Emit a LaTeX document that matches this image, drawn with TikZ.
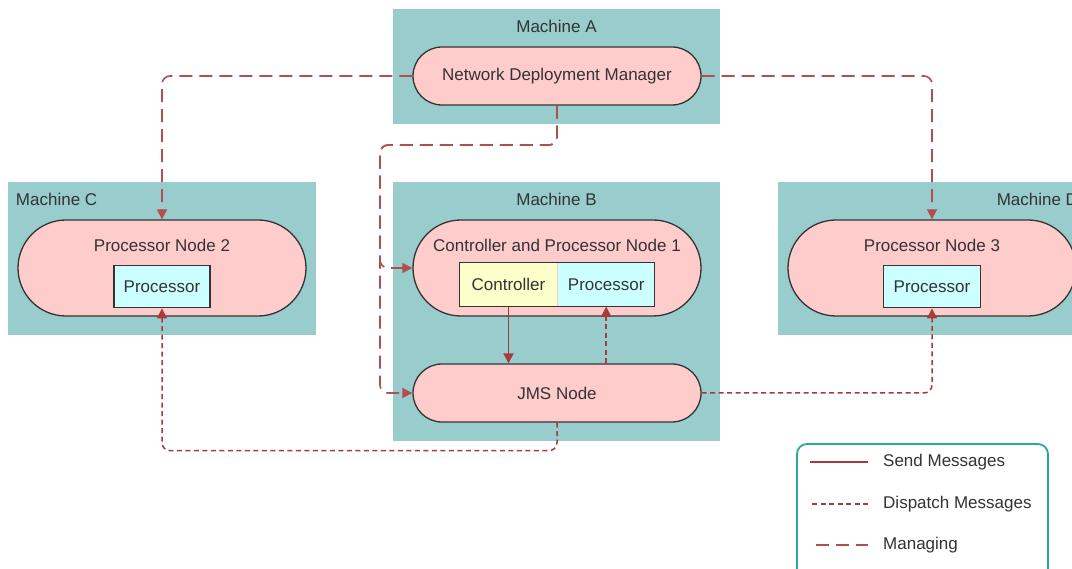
\documentclass[tikz,border=0pt]{standalone}
\usepackage{fontspec}
\setmainfont{Liberation Sans}
\usepackage{xcolor}
\usepackage{tikz}
\usetikzlibrary{arrows.meta,positioning,shapes.misc,fit,calc}
\definecolor{machteal}{HTML}{99CCCC}
\definecolor{nodepink}{HTML}{FFCCCC}
\definecolor{procyan}{HTML}{CCFFFF}
\definecolor{ctrlyellow}{HTML}{FFFFCC}
\definecolor{linkred}{HTML}{A83A3A}
\definecolor{legendteal}{HTML}{2AA6A6}
\definecolor{textgray}{HTML}{333333}
\tikzset{
  machine/.style={rectangle, fill=machteal, draw=none, minimum width=327pt, inner sep=0pt},
  machlabel/.style={inner sep=0pt, text=textgray},
  pill/.style={rounded rectangle, draw=textgray, fill=nodepink, line width=1.3pt, minimum width=288pt, inner sep=0pt, text=textgray},
  pilltitle/.style={inner sep=0pt, text=textgray},
  compbox/.style={rectangle, draw=textgray, fill=procyan, line width=1.2pt, minimum height=42pt, inner sep=0pt, text=textgray},
  sendline/.style={line width=1.8pt, draw=linkred},
  dispatchline/.style={line width=1.5pt, draw=linkred, dash pattern=on 5pt off 3.5pt, rounded corners=8pt},
  manageline/.style={line width=1.6pt, draw=linkred!90, dash pattern=on 13pt off 7pt, rounded corners=8pt},
  sendedge/.style={sendline, -{Triangle[length=10pt,width=10pt]}},
  dispatchedge/.style={dispatchline, -{Triangle[length=10pt,width=10pt]}},
  manageedge/.style={manageline, -{Triangle[length=10pt,width=10pt]}}
}
\begin{document}
\begin{tikzpicture}[x=1pt, y=-1pt, font=\fontsize{17}{20}\selectfont]
  \useasboundingbox (0,0) rectangle (1072,569);
  \clip (0,0) rectangle (1072,569);
  % machines
  \node[machine, minimum height=115pt] (macha) at (556.5,66.5) {};
  \node[machine, minimum height=259pt] (machb) at (556.5,311.5) {};
  \node[machine, minimum width=308pt, minimum height=153pt] (machc) at (162,258.5) {};
  \node[machine, minimum width=308pt, minimum height=153pt] (machd) at (932,258.5) {};
  \node[machlabel, below=11pt of macha.north] (labela) {Machine A};
  \node[machlabel, below=11pt of machb.north] (labelb) {Machine B};
  \node[machlabel, anchor=north west] (labelc) at ([xshift=8pt,yshift=-11pt]machc.north west) {Machine C};
  \node[machlabel, anchor=north east] (labeld) at ([xshift=-8pt,yshift=-11pt]machd.north east) {Machine D};
  % nodes
  \node[pill, minimum height=58pt] (ndm) at (557,76) {Network Deployment Manager};
  \node[pill, minimum height=96pt] (pn2) at (162,268) {};
  \node[pill, minimum height=96pt] (cpn1) at (557,268) {};
  \node[pill, minimum height=96pt] (pn3) at (932,268) {};
  \node[pill, minimum height=58pt] (jms) at (557,393) {JMS Node};
  \node[pilltitle, below=20pt of pn2.north] (pn2title) {Processor Node 2};
  \node[pilltitle, below=20pt of cpn1.north] (cpn1title) {Controller and Processor Node 1};
  \node[pilltitle, below=20pt of pn3.north] (pn3title) {Processor Node 3};
  \node[compbox, minimum width=96pt, below=13pt of pn2title] (proc2) {Processor};
  \node[compbox, minimum width=97pt, below=13pt of pn3title] (proc3) {Processor};
  \node[compbox, draw=none, fill=ctrlyellow, minimum width=97pt, minimum height=43pt] (ctrl) at (508.5,284.5) {Controller};
  \node[compbox, draw=none, minimum width=96pt, minimum height=43pt, right=0pt of ctrl] (proc1) {Processor};
  \node[draw=textgray, line width=1.2pt, inner sep=0pt, fit=(ctrl)(proc1)] (cpbox) {};
  % managing
  \coordinate (mgbend) at (380,145);
  \draw[manageedge] (ndm.west) -| (pn2.north);
  \draw[manageedge] (ndm.east) -| (pn3.north);
  \draw[manageedge] (ndm.south) |- (mgbend) |- (cpn1.west);
  \draw[manageedge] (ndm.south) |- (mgbend) |- (jms.west);
  % messages
  \draw[sendedge] (ctrl.south) -- (ctrl.south |- jms.north);
  \draw[dispatchedge] (proc1.south |- jms.north) -- (proc1.south);
  \draw[dispatchedge] (jms.east) -| (proc3.south);
  \draw[dispatchedge] (jms.south) -- ++(0,28) -| (proc2.south);
  % legend
  \node[draw=legendteal, line width=1.8pt, rounded corners=10pt, fill=white, minimum width=251pt, minimum height=141pt] (legend) at (922.5,514.5) {};
  \coordinate (sendl) at (810,462);
  \coordinate (sendr) at (868,462);
  \coordinate (displ) at (812,504);
  \coordinate (dispr) at (868,504);
  \coordinate (managel) at (816,545);
  \coordinate (manager) at (868,545);
  \draw[sendline] (sendl) -- (sendr);
  \draw[dispatchline] (displ) -- (dispr);
  \draw[manageline] (managel) -- (manager);
  \node[machlabel, anchor=west] (sendtext) at (883,462) {Send Messages};
  \node[machlabel, anchor=west] (disptext) at (883,504) {Dispatch Messages};
  \node[machlabel, anchor=west] (managetext) at (883,545) {Managing};
\end{tikzpicture}
\end{document}
